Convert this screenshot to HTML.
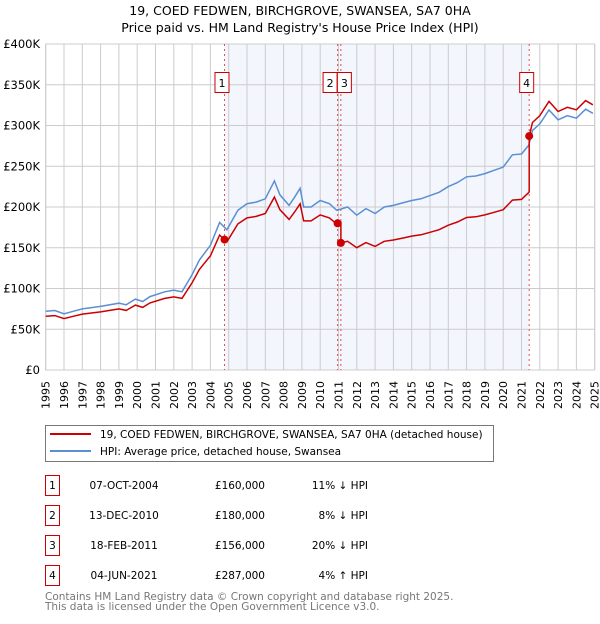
<!DOCTYPE html>
<html><head><meta charset="utf-8"><style>
body{margin:0;background:#fff;width:600px;height:620px;overflow:hidden;font-family:"DejaVu Sans","Liberation Sans",sans-serif}
svg text{font-family:"DejaVu Sans","Liberation Sans",sans-serif}
</style></head><body>
<svg id="chart" width="600" height="620" xmlns="http://www.w3.org/2000/svg">
<text x="300" y="15" text-anchor="middle" font-size="12.5">19, COED FEDWEN, BIRCHGROVE, SWANSEA, SA7 0HA</text>
<text x="300" y="32" text-anchor="middle" font-size="12.5">Price paid vs. HM Land Registry's House Price Index (HPI)</text>
<g id="plot"></g>
<g>
<rect x="45.5" y="425.5" width="448" height="36" fill="#fff" stroke="#777"/>
<line x1="50" y1="434" x2="91" y2="434" stroke="#cc0000" stroke-width="2"/>
<text x="100" y="438" font-size="10.5">19, COED FEDWEN, BIRCHGROVE, SWANSEA, SA7 0HA (detached house)</text>
<line x1="50" y1="451" x2="91" y2="451" stroke="#5b8fd4" stroke-width="2"/>
<text x="100" y="455" font-size="10.5">HPI: Average price, detached house, Swansea</text>
</g>
<g id="table" font-size="10.5"></g>
<text x="45" y="600" font-size="10.5" fill="#777">Contains HM Land Registry data © Crown copyright and database right 2025.</text>
<text x="45" y="610" font-size="10.5" fill="#777">This data is licensed under the Open Government Licence v3.0.</text>
</svg>
<script>
const hpiYears=[1995,1995.5,1996,1996.5,1997,1998,1999,1999.4,1999.9,2000.3,2000.7,2001.5,2002,2002.45,2003,2003.4,2004,2004.5,2004.9,2005.5,2006,2006.5,2007,2007.5,2007.8,2008.3,2008.6,2008.9,2009.1,2009.5,2010,2010.5,2010.9,2011.5,2012,2012.5,2013,2013.5,2014,2014.5,2015,2015.5,2016,2016.5,2017,2017.5,2018,2018.5,2019,2019.5,2020,2020.5,2021,2021.4,2021.6,2022,2022.5,2023,2023.5,2024,2024.5,2024.9];
const hpiValues=[72,73,69,72,75,78,82,80,87,84,90,96,98,96,117,135,153,181,172,196,204,206,210,232,215,202,212,223,200,200,208,204,196,200,190,198,192,200,202,205,208,210,214,218,225,230,237,238,241,245,249,264,265,276,294,302,319,307,312,309,320,315];
const saleYears=[2004.77,2010.95,2011.13,2021.42];
const salePrices=[160,180,156,287];
const saleLabels=["07-OCT-2004","13-DEC-2010","18-FEB-2011","04-JUN-2021"];
const saleDiffs=["11% \u2193 HPI","8% \u2193 HPI","20% \u2193 HPI","4% \u2191 HPI"];
const yTicks=[0,50,100,150,200,250,300,350,400];
const yTickLabels=["£0","£50K","£100K","£150K","£200K","£250K","£300K","£350K","£400K"];

const X=y=>45.7+(y-1995)*18.3, Y=v=>370-v*326/400;
const NS="http://www.w3.org/2000/svg";
function mk(tag,attrs,parent,text){const e=document.createElementNS(NS,tag);for(const k in attrs)e.setAttribute(k,attrs[k]);if(text!=null)e.textContent=text;parent.appendChild(e);return e;}
function hpiAt(t){for(let i=1;i<hpiYears.length;i++){if(t<=hpiYears[i]){const a=hpiYears[i-1],b=hpiYears[i];return hpiValues[i-1]+(hpiValues[i]-hpiValues[i-1])*(t-a)/(b-a);}}return hpiValues[hpiValues.length-1];}
const plot=document.getElementById('plot');
const shade=mk('rect',{x:X(saleYears[0]),y:44,width:X(saleYears[3])-X(saleYears[0]),height:326,fill:'#eef2fc',opacity:0.7},plot);


for(let yr=1995;yr<=2025;yr++){
 const l=mk('line',{x1:X(yr),x2:X(yr),y1:44,y2:370,stroke:'#ccc'},plot);
 
 
 const tx=X(yr)+4, ty=381;
 const t=mk('text',{x:tx,y:ty,'text-anchor':'end','font-size':'11',transform:`rotate(-90 ${tx} ${ty})`},plot,String(yr));
 
 
}
yTicks.forEach((v,i)=>{
 const l=mk('line',{x1:45.7,x2:594.7,y1:Y(v),y2:Y(v),stroke:'#ccc'},plot);
 
 
 const t=mk('text',{x:40,y:Y(v)+4,'text-anchor':'end','font-size':'11.5'},plot,yTickLabels[i]);
 
 
});
const frame=mk('rect',{x:45.7,y:44,width:549,height:326,fill:'none',stroke:'#ccc'},plot);


saleYears.forEach((s,i)=>{
 const l=mk('line',{x1:X(s),x2:X(s),y1:44,y2:370,stroke:'#e05050','stroke-dasharray':'2,3','stroke-width':'1'},plot);
 
 
});
let hp=hpiYears.map((y,i)=>X(y).toFixed(1)+','+Y(hpiValues[i]).toFixed(1)).join(' ');
const hl=mk('polyline',{points:hp,fill:'none',stroke:'#5b8fd4','stroke-width':'1.5'},plot);


const ratios=saleYears.map((s,i)=>salePrices[i]/hpiAt(s));
let pts=[];
function ratioAt(t){let r=ratios[0];saleYears.forEach((s,i)=>{if(t>=s)r=ratios[i];});return r;}
const times=hpiYears.concat(saleYears.flatMap(s=>[s-0.0001,s])).sort((a,b)=>a-b);
times.forEach(t=>{pts.push(X(t).toFixed(1)+','+Y(hpiAt(t)*ratioAt(t)).toFixed(1));});
const pl=mk('polyline',{points:pts.join(' '),fill:'none',stroke:'#cc0000','stroke-width':'1.5'},plot);


saleYears.forEach((s,i)=>{
 const c=mk('circle',{cx:X(s),cy:Y(salePrices[i]),r:4,fill:'#cc0000'},plot);
 
 
 const bx=X(s)-(i==1?15:i==2?4:10);
 const g=mk('g',{},plot);
 
 
 mk('rect',{x:bx+0.5,y:72.5,width:14,height:20,fill:'#fff',stroke:'#cc0000'},g);
 mk('text',{x:bx+7.5,y:87,'text-anchor':'middle','font-size':'11'},g,String(i+1));
});
const tb=document.getElementById('table');
saleYears.forEach((s,i)=>{
 const y0=475+i*30;
 const g=mk('g',{},tb);
 
 
 mk('rect',{x:45.5,y:y0+0.5,width:14,height:20,fill:'#fff',stroke:'#cc0000'},g);
 mk('text',{x:52.5,y:y0+14,'text-anchor':'middle'},g,String(i+1));
 mk('text',{x:124,y:y0+14,'text-anchor':'middle'},g,saleLabels[i]);
 mk('text',{x:265,y:y0+14,'text-anchor':'end'},g,'£'+salePrices[i]+',000');
 mk('text',{x:368,y:y0+14,'text-anchor':'end'},g,saleDiffs[i]);
});
</script>
</body></html>
